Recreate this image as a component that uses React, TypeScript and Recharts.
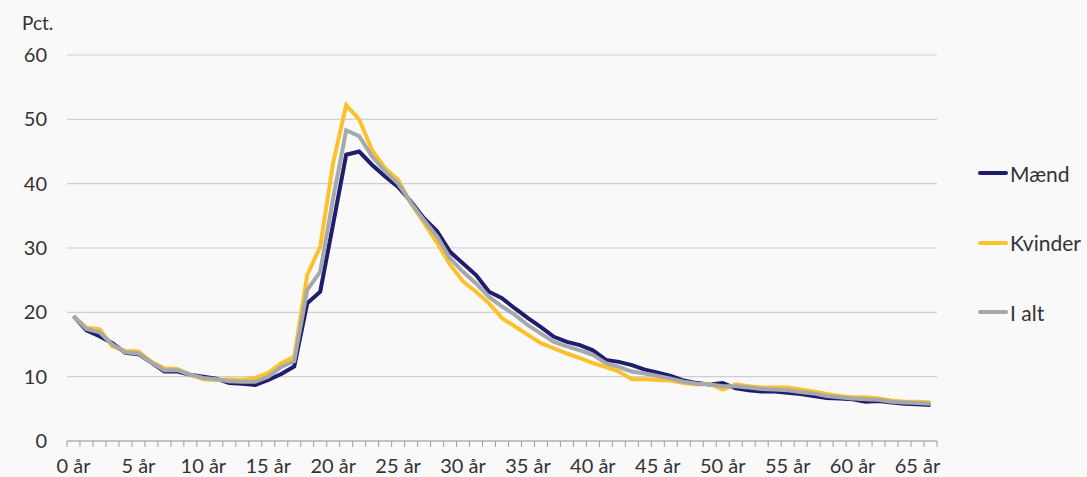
import React from 'react'
import { LineChart, Line, XAxis, YAxis, CartesianGrid } from 'recharts'

const ages = Array.from({ length: 67 }, (_, i) => i)

const maend = [
  19.4, 17.2, 16.3, 15.2, 13.7, 13.5, 12.2, 10.8, 10.8, 10.3,
  10.0, 9.7, 9.0, 8.9, 8.7, 9.5, 10.4, 11.6, 21.4, 23.2,
  33.8, 44.5, 45.0, 42.9, 41.1, 39.5, 37.2, 34.6, 32.6, 29.4,
  27.6, 25.8, 23.2, 22.2, 20.6, 19.1, 17.7, 16.2, 15.4, 14.9,
  14.1, 12.6, 12.3, 11.8, 11.1, 10.6, 10.1, 9.4, 9.0, 8.8,
  9.0, 8.2, 7.9, 7.7, 7.7, 7.5, 7.3, 7.0, 6.7, 6.6,
  6.5, 6.1, 6.2, 6.0, 5.8, 5.7, 5.6,
]

const kvinder = [
  19.4, 17.6, 17.4, 14.7, 14.0, 13.9, 12.3, 11.3, 11.2, 10.3,
  9.6, 9.5, 9.6, 9.5, 9.8, 10.6, 12.1, 13.1, 25.8, 30.2,
  43.3, 52.2, 50.0, 45.2, 42.4, 40.6, 36.9, 33.9, 30.8, 27.4,
  24.8, 23.2, 21.4, 19.1, 17.8, 16.5, 15.2, 14.4, 13.6, 12.9,
  12.1, 11.5, 10.8, 9.6, 9.6, 9.5, 9.4, 9.0, 8.8, 8.9,
  8.0, 8.8, 8.5, 8.3, 8.3, 8.3, 8.0, 7.7, 7.3, 7.0,
  6.8, 6.8, 6.6, 6.3, 6.1, 6.1, 6.0,
]

const iAlt = [
  19.4, 17.4, 16.9, 15.0, 13.8, 13.6, 12.2, 11.0, 11.0, 10.3,
  9.8, 9.6, 9.3, 9.2, 9.2, 10.0, 11.5, 12.4, 23.5, 26.3,
  37.8, 48.3, 47.4, 44.2, 41.9, 40.0, 37.0, 34.3, 31.8, 28.4,
  26.3, 24.5, 22.4, 20.9, 19.6, 18.0, 16.7, 15.4, 14.7, 14.1,
  13.4, 12.1, 11.5, 10.8, 10.5, 10.1, 9.7, 9.2, 8.9, 8.8,
  8.5, 8.5, 8.3, 8.1, 8.0, 7.9, 7.6, 7.4, 7.0, 6.8,
  6.6, 6.5, 6.4, 6.1, 6.0, 5.9, 5.8,
]

const yTicks = [0, 10, 20, 30, 40, 50, 60]
const labelTicks = [0, 5, 10, 15, 20, 25, 30, 35, 40, 45, 50, 55, 60, 65]
const boundaryTicks = Array.from({ length: 68 }, (_, i) => i - 0.5)

const series = [
  { key: 'maend', name: 'Mænd', color: '#1f1d6c' },
  { key: 'kvinder', name: 'Kvinder', color: '#fec12e' },
  { key: 'iAlt', name: 'I alt', color: '#a4a9ae' },
]

const data = ages.map((age, i) => ({
  age,
  maend: maend[i],
  kvinder: kvinder[i],
  iAlt: iAlt[i],
}))

const font = 'Lato, "Noto Sans", sans-serif'
const textColor = '#333333'

function LegendBox() {
  return (
    <div style={{ position: 'absolute', left: 978, top: 159, fontFamily: font, fontSize: 21, color: textColor }}>
      {series.map((s) => (
        <div key={s.key} style={{ display: 'flex', alignItems: 'center', height: 28, marginBottom: 41.5 }}>
          <div style={{ width: 30, height: 4, background: s.color, borderRadius: 2, marginRight: 2 }} />
          <span>{s.name}</span>
        </div>
      ))}
    </div>
  )
}

export default function App() {
  return (
    <div style={{ position: 'absolute', left: 0, top: 0, width: 1087, height: 477, background: '#f9f9f9', fontFamily: font }}>
      <div style={{ position: 'absolute', left: 22, top: 11, fontSize: 19, color: textColor }}>Pct.</div>
      <LineChart width={1087} height={477} data={data} margin={{ top: 55, right: 150, bottom: 0, left: 0 }}>
        <CartesianGrid vertical={false} stroke="#cfcfcf" strokeWidth={1.2} />
        {/* tick marks sit on the category borders, like Excel */}
        <XAxis
          xAxisId={0}
          dataKey="age"
          type="number"
          domain={[-0.5, 66.5]}
          ticks={boundaryTicks}
          interval={0}
          height={1}
          tickFormatter={() => ''}
          stroke="#a0a0a0"
          tickSize={6}
          allowDataOverflow
        />
        <XAxis
          xAxisId="main"
          dataKey="age"
          type="number"
          domain={[-0.5, 66.5]}
          ticks={labelTicks}
          interval={0}
          height={35}
          axisLine={false}
          tickLine={false}
          tickSize={6}
          tickMargin={11}
          tickFormatter={(v) => `${v} år`}
          tick={{ fill: textColor, fontSize: 20, fontFamily: font }}
          allowDataOverflow
        />
        <YAxis
          domain={[0, 60]}
          ticks={yTicks}
          width={67}
          axisLine={false}
          tickLine={false}
          tickSize={0}
          tickMargin={20}
          tick={{ fill: textColor, fontSize: 20, fontFamily: font }}
        />
        {/* invisible copy so the tick axis gets the same data domain */}
        <Line xAxisId={0} dataKey="iAlt" stroke="none" dot={false} activeDot={false} legendType="none" isAnimationActive={false} />
        {series.map((s) => (
          <Line
            key={s.key}
            xAxisId="main"
            type="linear"
            dataKey={s.key}
            name={s.name}
            stroke={s.color}
            strokeWidth={4}
            dot={false}
            isAnimationActive={false}
          />
        ))}
      </LineChart>
      <LegendBox />
    </div>
  )
}
